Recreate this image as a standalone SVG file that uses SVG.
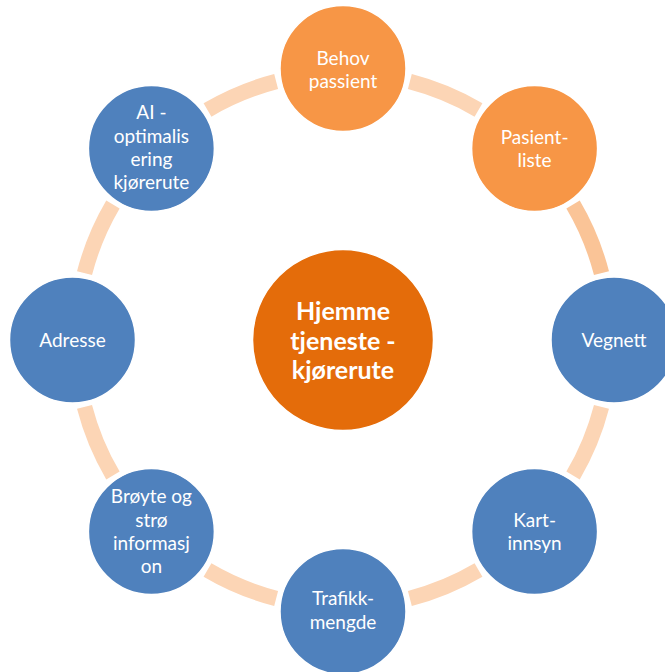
<svg xmlns="http://www.w3.org/2000/svg" xmlns:xlink="http://www.w3.org/1999/xlink" width="665" height="672" viewBox="0 0 665 672">
<style>
.arc{fill:none;stroke:#FCD5B5;stroke-width:15.5}
.arc2{fill:none;stroke:#FAC497;stroke-width:15.5}
.or{fill:#F79646;stroke:#fff;stroke-width:1.5}
.bl{fill:#4F81BD;stroke:#fff;stroke-width:1.5}
.ctr{fill:#E46C0A;stroke:#fff;stroke-width:1.5}
.t{font-family:Lato,"Open Sans","Liberation Sans",sans-serif;font-size:19px;fill:#fff;text-anchor:middle}
.tc{font-family:Lato,"Open Sans","Liberation Sans",sans-serif;font-size:25px;font-weight:bold;fill:#fff;text-anchor:middle}
</style>
<defs>
<path id="seg" d="M409.86,81.52 A267,267 0 0 1 478.5,109.95"/>
</defs>
<rect width="665" height="672" fill="#fff"/>
<g id="connectors">
<use xlink:href="#seg" href="#seg" class="arc"/>
<use xlink:href="#seg" href="#seg" class="arc2" transform="rotate(45 343 340)"/>
<use xlink:href="#seg" href="#seg" class="arc" transform="rotate(90 343 340)"/>
<use xlink:href="#seg" href="#seg" class="arc" transform="rotate(135 343 340)"/>
<use xlink:href="#seg" href="#seg" class="arc" transform="rotate(180 343 340)"/>
<use xlink:href="#seg" href="#seg" class="arc" transform="rotate(225 343 340)"/>
<use xlink:href="#seg" href="#seg" class="arc" transform="rotate(270 343 340)"/>
<use xlink:href="#seg" href="#seg" class="arc" transform="rotate(315 343 340)"/>
</g>
<g id="center">
<circle class="ctr" cx="343" cy="340" r="90.5"/>
<text class="tc" x="343" y="320">Hjemme</text>
<text class="tc" x="343" y="349.5">tjeneste -</text>
<text class="tc" x="343" y="378.5">kjørerute</text>
</g>
<g id="behov">
<circle class="or" cx="343" cy="68.5" r="63"/>
<text class="t" x="343" y="64.5">Behov</text>
<text class="t" x="343" y="87.5">passient</text>
</g>
<g id="pasientliste">
<circle class="or" cx="534.6" cy="148.4" r="63"/>
<text class="t" x="534.6" y="144">Pasient-</text>
<text class="t" x="534.6" y="167.3">liste</text>
</g>
<g id="vegnett">
<circle class="bl" cx="614" cy="340" r="63"/>
<text class="t" x="614" y="346.5">Vegnett</text>
</g>
<g id="kartinnsyn">
<circle class="bl" cx="534.6" cy="531.6" r="63"/>
<text class="t" x="534.6" y="526.7">Kart-</text>
<text class="t" x="534.6" y="550">innsyn</text>
</g>
<g id="trafikkmengde">
<circle class="bl" cx="343" cy="611.5" r="63"/>
<text class="t" x="343" y="605">Trafikk-</text>
<text class="t" x="343" y="629">mengde</text>
</g>
<g id="broyte">
<circle class="bl" cx="151.4" cy="531.6" r="63"/>
<text class="t" x="151.4" y="503.3">Brøyte og</text>
<text class="t" x="151.4" y="526.5">strø</text>
<text class="t" x="151.4" y="549.8">informasj</text>
<text class="t" x="151.4" y="573.1">on</text>
</g>
<g id="adresse">
<circle class="bl" cx="72.5" cy="340" r="63"/>
<text class="t" x="72.5" y="346.5">Adresse</text>
</g>
<g id="ai">
<circle class="bl" cx="151.4" cy="148.4" r="63"/>
<text class="t" x="151.4" y="119.3">AI -</text>
<text class="t" x="151.4" y="142.6">optimalis</text>
<text class="t" x="151.4" y="165.9">ering</text>
<text class="t" x="151.4" y="189.2">kjørerute</text>
</g>
</svg>
